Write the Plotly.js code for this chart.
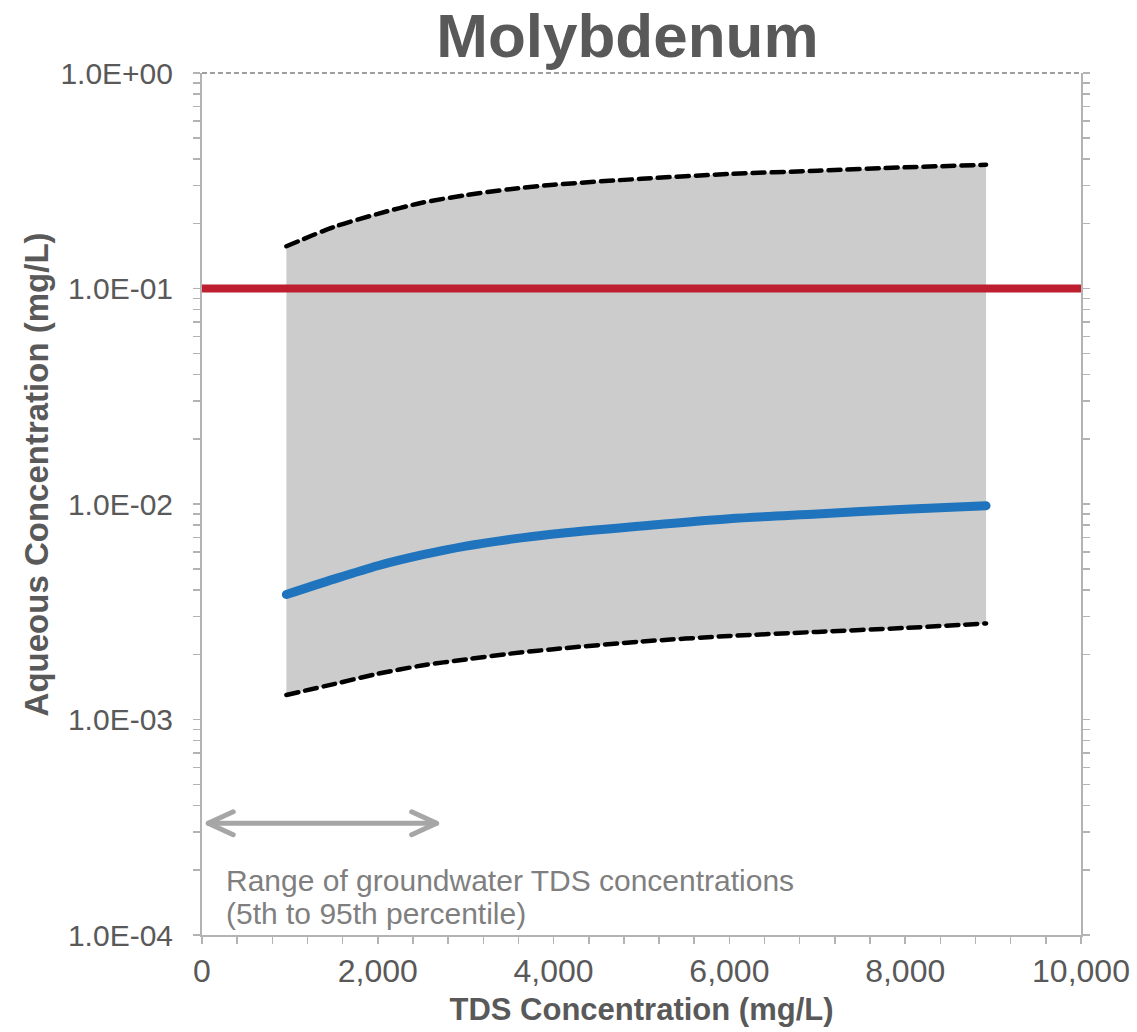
<!DOCTYPE html>
<html>
<head>
<meta charset="utf-8">
<script src="https://cdn.plot.ly/plotly-3.0.1.min.js"></script>
<style>
  html, body { margin: 0; padding: 0; background: #ffffff; }
  #chart { width: 1137px; height: 1032px; }
  #chart .scatterlayer path.js-line { stroke-linecap: round; }
</style>
</head>
<body>
<div id="chart"></div>
<script>
// TDS concentration (mg/L) at which aqueous Mo was evaluated
const tds = [960, 1500, 2000, 2500, 3000, 3500, 4000, 5000, 6000, 7000, 8000, 8920];
// 95th percentile, median and 5th percentile aqueous concentration (mg/L)
const upper95 = [0.157, 0.193, 0.222, 0.250, 0.271, 0.289, 0.303, 0.323, 0.340, 0.352, 0.365, 0.375];
const median  = [0.00380, 0.00448, 0.00517, 0.00580, 0.00638, 0.00685, 0.00726, 0.00791, 0.00855, 0.00899, 0.00945, 0.00982];
const lower5  = [0.00130, 0.00146, 0.00163, 0.00178, 0.00190, 0.00202, 0.00212, 0.00230, 0.00244, 0.00255, 0.00266, 0.00279];

// Screening level drawn across the full TDS axis
const screeningLevel = 0.1;
const screeningSpan = [0, 10000];

// Groundwater TDS range (5th to 95th percentile) and the level of its arrow
const gwRange = [70, 2670];
const gwArrowLevel = 3.3e-4;

// Axis labels
const yMajorVals = [1e-4, 1e-3, 1e-2, 1e-1, 1];
const yMajorText = ['1.0E-04', '1.0E-03', '1.0E-02', '1.0E-01', '1.0E+00'];
const xMajorVals = [0, 2000, 4000, 6000, 8000, 10000];
const xMajorText = ['0', '2,000', '4,000', '6,000', '8,000', '10,000'];

const FONT = 'Liberation Sans, Arial, sans-serif';
const TEXT_GREY = '#595959';
const AXIS_GREY = '#b3b3b3';

// Log axis: label the decades, leave the 2..9 minor ticks blank
const yTickVals = [], yTickText = [];
for (let i = 0; i < yMajorVals.length; i++) {
  const base = yMajorVals[i];
  const last = i === yMajorVals.length - 1;
  for (let d = 1; d <= (last ? 1 : 9); d++) {
    yTickVals.push(d * base);
    yTickText.push(d === 1 ? yMajorText[i] : '');
  }
}
// Linear axis: minor ticks every 400, labels every 2000
const xTickVals = [], xTickText = [];
for (let v = 0; v <= 10000; v += 400) {
  xTickVals.push(v);
  const k = xMajorVals.indexOf(v);
  xTickText.push(k >= 0 ? xMajorText[k] : '');
}

// Open chevrons for the double-headed range arrow
const headDx = 285, headRatio = 1.13;
const traces = [
  { // lower bound of shaded band
    x: tds, y: lower5, mode: 'lines', line: { color: 'rgba(0,0,0,0)', width: 0, shape: 'spline', smoothing: 0.8 },
    hoverinfo: 'skip', showlegend: false
  },
  { // shaded band up to the 95th percentile
    x: tds, y: upper95, mode: 'lines', fill: 'tonexty', fillcolor: '#cccccc',
    line: { color: 'rgba(0,0,0,0)', width: 0, shape: 'spline', smoothing: 0.8 }, hoverinfo: 'skip', showlegend: false
  },
  { // screening level
    x: screeningSpan, y: [screeningLevel, screeningLevel], mode: 'lines',
    line: { color: '#be1e2d', width: 8 }, showlegend: false
  },
  { // 95th percentile
    x: tds, y: upper95, mode: 'lines',
    line: { color: '#000000', width: 4.5, dash: '12px,7px', shape: 'spline', smoothing: 0.8 }, showlegend: false
  },
  { // 5th percentile
    x: tds, y: lower5, mode: 'lines',
    line: { color: '#000000', width: 4.5, dash: '12px,7px', shape: 'spline', smoothing: 0.8 }, showlegend: false
  },
  { // median
    x: tds, y: median, mode: 'lines',
    line: { color: '#1f74bd', width: 9, shape: 'spline', smoothing: 0.8 }, showlegend: false
  },
  { // range arrow shaft
    x: gwRange, y: [gwArrowLevel, gwArrowLevel], mode: 'lines',
    line: { color: '#a6a6a6', width: 5 }, showlegend: false, hoverinfo: 'skip'
  },
  { // left head
    x: [gwRange[0] + headDx, gwRange[0], gwRange[0] + headDx],
    y: [gwArrowLevel * headRatio, gwArrowLevel, gwArrowLevel / headRatio], mode: 'lines',
    line: { color: '#a6a6a6', width: 5 }, showlegend: false, hoverinfo: 'skip'
  },
  { // right head
    x: [gwRange[1] - headDx, gwRange[1], gwRange[1] - headDx],
    y: [gwArrowLevel * headRatio, gwArrowLevel, gwArrowLevel / headRatio], mode: 'lines',
    line: { color: '#a6a6a6', width: 5 }, showlegend: false, hoverinfo: 'skip'
  }
];

const layout = {
  width: 1137, height: 1032,
  margin: { l: 202, r: 56, t: 73, b: 97 },
  paper_bgcolor: '#ffffff', plot_bgcolor: '#ffffff',
  font: { family: FONT, color: TEXT_GREY },
  title: {
    text: '<b>Molybdenum</b>', font: { family: FONT, size: 62, color: TEXT_GREY },
    x: 0.484, xref: 'paper', xanchor: 'center', y: 0.966, yref: 'container', yanchor: 'middle'
  },
  xaxis: {
    range: [0, 10000], showgrid: false, zeroline: false,
    showline: true, linecolor: AXIS_GREY, linewidth: 2,
    ticks: 'outside', ticklen: 7, tickwidth: 1.5, tickcolor: AXIS_GREY,
    tickmode: 'array', tickvals: xTickVals, ticktext: xTickText,
    tickfont: { family: FONT, size: 32, color: TEXT_GREY },
    title: { text: '<b>TDS Concentration (mg/L)</b>', font: { family: FONT, size: 31, color: TEXT_GREY }, standoff: 10 }
  },
  yaxis: {
    type: 'log', range: [-4, 0], showgrid: false, zeroline: false,
    showline: true, linecolor: AXIS_GREY, linewidth: 2, mirror: 'allticks',
    ticks: 'outside', ticklen: 7, tickwidth: 1.5, tickcolor: AXIS_GREY,
    tickmode: 'array', tickvals: yTickVals, ticktext: yTickText,
    ticklabelstandoff: 14,
    tickfont: { family: FONT, size: 30, color: TEXT_GREY }
  },
  shapes: [
    { type: 'line', xref: 'paper', yref: 'paper', x0: 0, x1: 1, y0: 1, y1: 1,
      line: { color: '#7f7f7f', width: 1.5, dash: '5px,3px' } }
  ],
  annotations: [
    { text: '<b>Aqueous Concentration (mg/L)</b>', textangle: -90, showarrow: false,
      xref: 'paper', yref: 'paper', x: -0.188, y: 0.534, xanchor: 'center', yanchor: 'middle',
      font: { family: FONT, size: 33, color: TEXT_GREY } },
    { text: 'Range of groundwater TDS concentrations', showarrow: false,
      xref: 'x', yref: 'paper', x: 250, y: 0.0638, xanchor: 'left', yanchor: 'middle', align: 'left',
      font: { family: FONT, size: 30, color: '#7f7f7f' } },
    { text: '(5th to 95th percentile)', showarrow: false,
      xref: 'x', yref: 'paper', x: 250, y: 0.0244, xanchor: 'left', yanchor: 'middle', align: 'left',
      font: { family: FONT, size: 30, color: '#7f7f7f' } }
  ]
};

Plotly.newPlot('chart', traces, layout, { displayModeBar: false, staticPlot: true });
</script>
</body>
</html>
